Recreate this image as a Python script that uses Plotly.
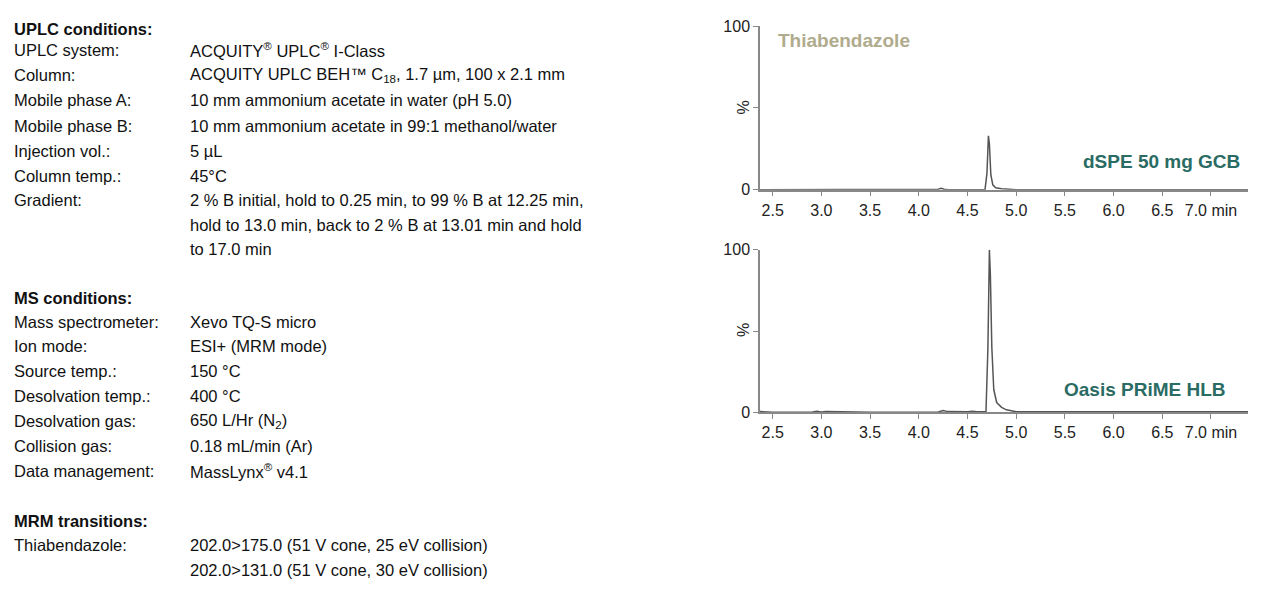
import plotly.graph_objects as go

# chromatogram points (time in min, % response)
gcb_time = [2.37, 4.0, 4.2, 4.23, 4.26, 4.3, 4.68, 4.70, 4.715, 4.725, 4.74, 4.76, 4.79, 4.85, 4.95, 5.0, 7.38]
gcb_resp = [0, 0, 0.3, 0.9, 0.3, 0, 0, 10, 33, 28, 9, 3, 1.2, 0.6, 0.2, 0, 0]

hlb_time = [2.37, 2.45, 2.5, 2.9, 2.95, 3.0, 3.05, 3.5, 4.2, 4.25, 4.3, 4.5, 4.55, 4.6, 4.69, 4.71, 4.725, 4.735, 4.75, 4.77, 4.8, 4.85, 4.9, 5.0, 6.0, 6.4, 6.45, 6.5, 6.8, 6.85, 7.38]
hlb_resp = [0.4, 0.2, 0, 0, 0.6, 0.2, 0.4, 0, 0.2, 1.1, 0.4, 0.3, 0.6, 0.3, 0.5, 40, 100, 85, 40, 14, 6, 3, 1.5, 0.3, 0.2, 0, 0.4, 0.2, 0.2, 0.4, 0.3]

x_ticks = [2.5, 3.0, 3.5, 4.0, 4.5, 5.0, 5.5, 6.0, 6.5, 7.0]
x_labels = ["2.5", "3.0", "3.5", "4.0", "4.5", "5.0", "5.5", "6.0", "6.5", "7.0 min"]

# left hand text block: (label, value, y pixel)
conditions = [
    ("<b>UPLC conditions:</b>", "", 30),
    ("UPLC system:", "ACQUITY<sup>®</sup> UPLC<sup>®</sup> I-Class", 51),
    ("Column:", "ACQUITY UPLC BEH™ C<sub>18</sub>, 1.7 µm, 100 x 2.1 mm", 76),
    ("Mobile phase A:", "10 mm ammonium acetate in water (pH 5.0)", 101),
    ("Mobile phase B:", "10 mm ammonium acetate in 99:1 methanol/water", 126),
    ("Injection vol.:", "5 µL", 151),
    ("Column temp.:", "45°C", 176),
    ("Gradient:", "2 % B initial, hold to 0.25 min, to 99 % B at 12.25 min,", 200),
    ("", "hold to 13.0 min, back to 2 % B at 13.01 min and hold", 225),
    ("", "to 17.0 min", 249),
    ("<b>MS conditions:</b>", "", 298),
    ("Mass spectrometer:", "Xevo TQ-S micro", 322),
    ("Ion mode:", "ESI+ (MRM mode)", 346),
    ("Source temp.:", "150 °C", 371),
    ("Desolvation temp.:", "400 °C", 396),
    ("Desolvation gas:", "650 L/Hr (N<sub>2</sub>)", 421),
    ("Collision gas:", "0.18 mL/min (Ar)", 446),
    ("Data management:", "MassLynx<sup>®</sup> v4.1", 471),
    ("<b>MRM transitions:</b>", "", 520),
    ("Thiabendazole:", "202.0>175.0 (51 V cone, 25 eV collision)", 544),
    ("", "202.0>131.0 (51 V cone, 30 eV collision)", 569),
]

W, H = 1261, 598
font = "Liberation Sans, Arial, sans-serif"
line_col = "#555555"
axis_col = "#888888"


def py(p):
    # pixel row in the reference -> paper fraction (corrects the small vertical squeeze seen on screen)
    return 1 - ((p - 8.8) / 0.969) / H


fig = go.Figure()
fig.add_trace(go.Scatter(x=gcb_time, y=gcb_resp, mode="lines", line=dict(color=line_col, width=1.5),
                         xaxis="x", yaxis="y", showlegend=False))
fig.add_trace(go.Scatter(x=hlb_time, y=hlb_resp, mode="lines", line=dict(color=line_col, width=1.5),
                         xaxis="x2", yaxis="y2", showlegend=False))

xax = dict(range=[2.37, 7.38], tickvals=x_ticks, ticktext=x_labels, showgrid=False, zeroline=False,
           showline=True, linecolor=axis_col, linewidth=1.5, ticks="outside", ticklen=5, tickcolor=axis_col,
           tickfont=dict(size=16, color="#222"), domain=[760 / W, 1248 / W])
yax = dict(range=[0, 100], tickvals=[0, 50, 100], ticktext=["0", "", "100"], showgrid=False, zeroline=False,
           showline=True, linecolor=axis_col, linewidth=1.5, ticks="outside", ticklen=5, tickcolor=axis_col,
           tickfont=dict(size=16, color="#222"))

ann = []
for label, value, yp in conditions:
    ann.append(dict(x=12 / W, y=py(yp), xref="paper", yref="paper", text=label, showarrow=False,
                    xanchor="left", yanchor="middle", font=dict(size=16.5, color="#111", family=font)))
    if value:
        ann.append(dict(x=188 / W, y=py(yp), xref="paper", yref="paper", text=value, showarrow=False,
                        xanchor="left", yanchor="middle", font=dict(size=16.5, color="#111", family=font)))

for yp in [108, 330]:
    ann.append(dict(x=743 / W, y=py(yp), xref="paper", yref="paper", text="%", textangle=-90, showarrow=False,
                    yanchor="middle", font=dict(size=16, color="#222", family=font)))

ann.append(dict(x=776 / W, y=py(41), xref="paper", yref="paper", text="<b>Thiabendazole</b>", showarrow=False,
                xanchor="left", yanchor="middle", font=dict(size=19, color="#b0ab8c", family=font)))
ann.append(dict(x=1242 / W, y=py(162), xref="paper", yref="paper", text="<b>dSPE 50 mg GCB</b>", showarrow=False,
                xanchor="right", yanchor="middle", font=dict(size=19, color="#2a6b63", family=font)))
ann.append(dict(x=1228 / W, y=py(389), xref="paper", yref="paper", text="<b>Oasis PRiME HLB</b>", showarrow=False,
                xanchor="right", yanchor="middle", font=dict(size=19, color="#2a6b63", family=font)))

fig.update_layout(
    width=W, height=H, margin=dict(l=0, r=0, t=0, b=0),
    paper_bgcolor="white", plot_bgcolor="white", font=dict(family=font),
    xaxis=dict(xax, anchor="y"),
    yaxis=dict(yax, domain=[py(190), py(27)], anchor="x"),
    xaxis2=dict(xax, anchor="y2"),
    yaxis2=dict(yax, domain=[py(412), py(250)], anchor="x2"),
    annotations=ann,
)

# drop the default body margin so the figure sits at the window's corner
fig.write_html("out.html", config={"displayModeBar": False},
               post_script="document.body.style.margin='0';document.body.style.overflow='hidden';")
